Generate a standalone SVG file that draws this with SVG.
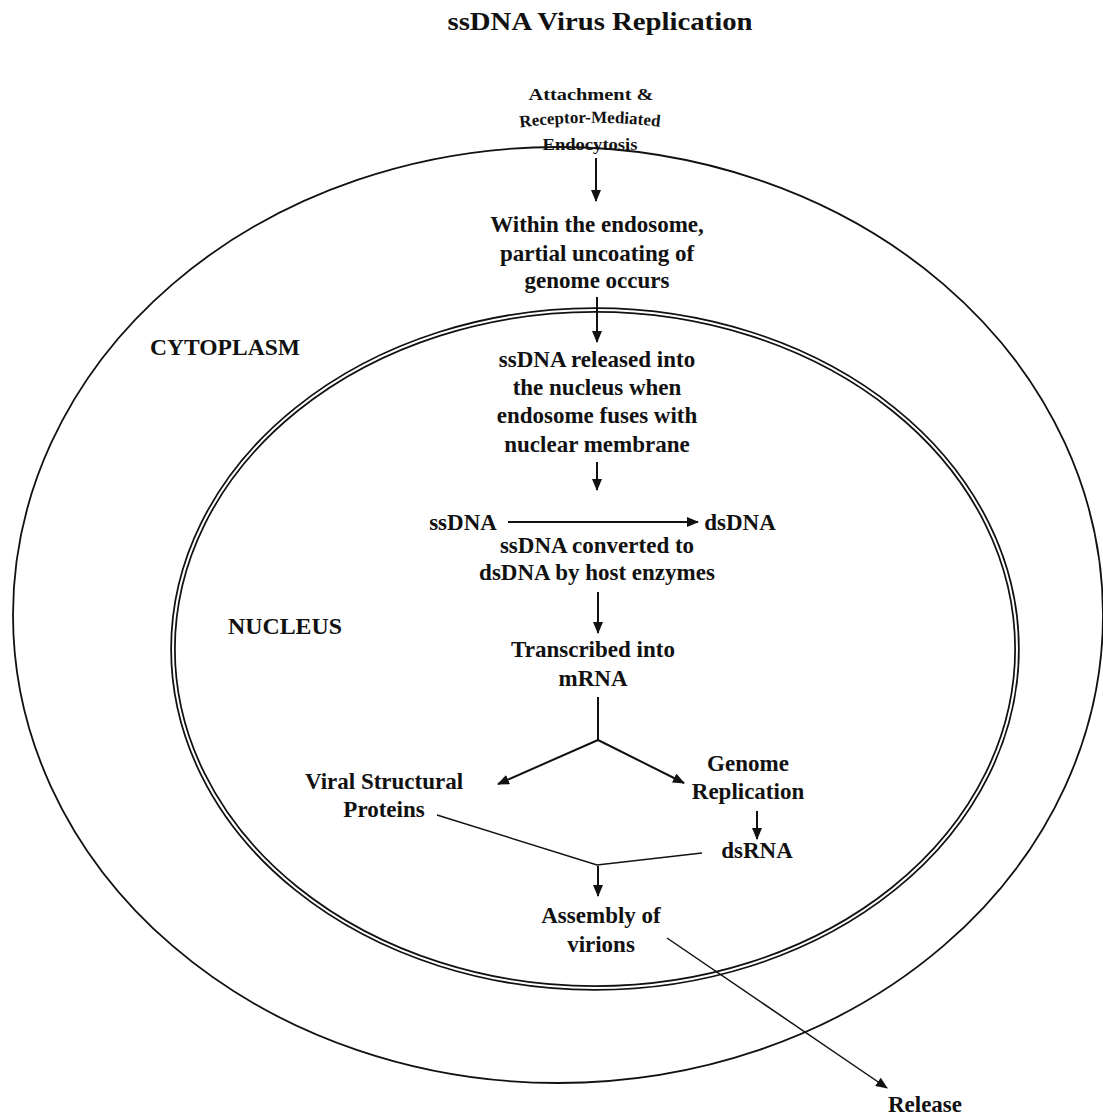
<svg xmlns="http://www.w3.org/2000/svg" width="1103" height="1117" viewBox="0 0 1103 1117">
<style>
text{font-family:"Liberation Serif","Times New Roman",serif;font-weight:bold;fill:#111;text-anchor:middle}
.t{font-size:23px}
.s{font-size:17px}
.title{font-size:26px}
.ln{stroke:#111;stroke-width:2;fill:none}
.thin{stroke:#111;stroke-width:1.5;fill:none}
</style>
<defs>
<marker id="ah" viewBox="0 0 12 10" refX="11" refY="5" markerWidth="12" markerHeight="10" markerUnits="userSpaceOnUse" orient="auto">
<path d="M0,0 L12,5 L0,10 Z" fill="#111"/>
</marker>
<path id="arcRM" d="M 503,130 Q 590,116 677,129"/>
</defs>
<rect width="1103" height="1117" fill="#fff"/>
<text class="title" x="600" y="30" textLength="305" lengthAdjust="spacingAndGlyphs">ssDNA Virus Replication</text>

<g id="cytoplasm">
<ellipse cx="558" cy="615" rx="545" ry="468" fill="none" stroke="#111" stroke-width="1.8"/>
<text class="t" x="225" y="355" textLength="150" lengthAdjust="spacingAndGlyphs">CYTOPLASM</text>
</g>
<g id="nucleus">
<ellipse cx="595" cy="649" rx="422" ry="339" fill="none" stroke="#111" stroke-width="5.5"/>
<ellipse cx="595" cy="649" rx="422" ry="339" fill="none" stroke="#fff" stroke-width="2"/>
<text class="t" x="285" y="634" textLength="114" lengthAdjust="spacingAndGlyphs">NUCLEUS</text>
</g>

<g id="attachment">
<text class="s" x="591" y="100" textLength="125" lengthAdjust="spacingAndGlyphs">Attachment &amp;</text>
<text class="s"><textPath href="#arcRM" startOffset="50%">Receptor-Mediated</textPath></text>
<text class="s" x="590" y="150" textLength="95" lengthAdjust="spacingAndGlyphs">Endocytosis</text>
</g>
<g id="endosome">
<text class="t" x="597" y="232">Within the endosome,</text>
<text class="t" x="597" y="261">partial uncoating of</text>
<text class="t" x="597" y="288">genome occurs</text>
</g>
<g id="released">
<text class="t" x="597" y="367">ssDNA released into</text>
<text class="t" x="597" y="395">the nucleus when</text>
<text class="t" x="597" y="423">endosome fuses with</text>
<text class="t" x="597" y="452">nuclear membrane</text>
</g>
<g id="ssdna">
<text class="t" x="463" y="530">ssDNA</text>
</g>
<g id="dsdna">
<text class="t" x="740" y="530">dsDNA</text>
</g>
<g id="converted">
<text class="t" x="597" y="553">ssDNA converted to</text>
<text class="t" x="597" y="580">dsDNA by host enzymes</text>
</g>
<g id="transcribed">
<text class="t" x="593" y="657">Transcribed into</text>
<text class="t" x="593" y="686">mRNA</text>
</g>
<g id="proteins">
<text class="t" x="384" y="789">Viral Structural</text>
<text class="t" x="384" y="817">Proteins</text>
</g>
<g id="genome">
<text class="t" x="748" y="771">Genome</text>
<text class="t" x="748" y="799">Replication</text>
</g>
<g id="dsrna">
<text class="t" x="757" y="858">dsRNA</text>
</g>
<g id="assembly">
<text class="t" x="601" y="923">Assembly of</text>
<text class="t" x="601" y="952">virions</text>
</g>
<g id="release">
<text class="t" x="925" y="1112">Release</text>
</g>

<g id="connectors">
<line class="ln" x1="596" y1="158" x2="596" y2="201" marker-end="url(#ah)"/>
<line class="ln" x1="597" y1="297" x2="597" y2="342" marker-end="url(#ah)"/>
<line class="ln" x1="597" y1="462" x2="597" y2="490" marker-end="url(#ah)"/>
<line class="ln" x1="508" y1="522" x2="698" y2="522" marker-end="url(#ah)"/>
<line class="ln" x1="598" y1="592" x2="598" y2="633" marker-end="url(#ah)"/>
<polyline class="ln" points="598,697 598,740"/>
<line class="ln" x1="598" y1="740" x2="498" y2="784" marker-end="url(#ah)"/>
<line class="ln" x1="598" y1="740" x2="684" y2="783" marker-end="url(#ah)"/>
<line class="ln" x1="757" y1="811" x2="757" y2="839" marker-end="url(#ah)"/>
<polyline class="thin" points="437,815 597,865 702,853"/>
<line class="ln" x1="598" y1="866" x2="598" y2="896" marker-end="url(#ah)"/>
<line class="thin" x1="667" y1="938" x2="887" y2="1088" marker-end="url(#ah)"/>
</g>
</svg>
